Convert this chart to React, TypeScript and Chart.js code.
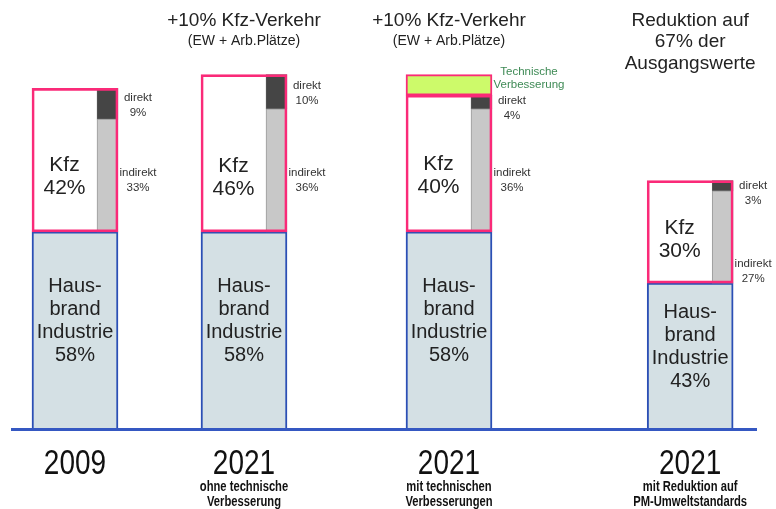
import { useEffect, useRef } from "react";
import { Chart, registerables } from "chart.js";

Chart.register(...registerables);

// ---- data ----
const years = ["2009", "2021", "2021", "2021"];
const subLabels = [
  [] as string[],
  ["ohne technische", "Verbesserung"],
  ["mit technischen", "Verbesserungen"],
  ["mit Reduktion auf", "PM-Umweltstandards"],
];
const headerMain = [
  [] as string[],
  ["+10% Kfz-Verkehr"],
  ["+10% Kfz-Verkehr"],
  ["Reduktion auf", "67% der", "Ausgangswerte"],
];
const headerSub = ["", "(EW + Arb.Plätze)", "(EW + Arb.Plätze)", ""];
const groupPositions = [0, 1, 2.213, 3.64];
const hausbrand = [58, 58, 58, 43];
const kfz = [42, 46, 40, 30];
const direkt = [9, 10, 4, 3];
const indirekt = [33, 36, 36, 27];
const technisch = [0, 0, 6, 0];

// label anchors (value units)
const kfzLabelAt = [74.1, 73.8, 74.3, 55.6];
const indirektLabelAt = [73.2, 73.1, 73.0, 46.3];

// ---- layout ----
const W = 776;
const H = 509;
const PAD = { left: 11, right: 19, top: 20, bottom: 79 };
const X_MIN = -0.3787;
const X_MAX = 4.0355;
const BAR_W = 86;
const INNER_W = 21;
const pxPerUnit = (W - PAD.left - PAD.right) / (X_MAX - X_MIN);
const innerOffset = (BAR_W - INNER_W) / 2 / pxPerUnit;

const SANS = '"Liberation Sans", Arial, Helvetica, sans-serif';
const NARROW_SCALE = 0.8;

const PINK = "#fa2a78";
const BLUE = "#2b4fb5";

function narrowText(ctx: CanvasRenderingContext2D, t: string, x: number, y: number) {
  ctx.save();
  ctx.translate(x, y);
  ctx.scale(NARROW_SCALE, 1);
  ctx.fillText(t, 0, 0);
  ctx.restore();
}

const textPlugin = {
  id: "texts",
  afterDatasetsDraw(chart: any) {
    const { ctx, chartArea } = chart;
    const x = chart.scales.x;
    const y = chart.scales.y;
    ctx.save();
    // baseline
    const y0 = y.getPixelForValue(0);
    ctx.strokeStyle = "#3558c2";
    ctx.lineWidth = 3;
    ctx.beginPath();
    ctx.moveTo(chartArea.left, y0 - 0.5);
    ctx.lineTo(chartArea.right, y0 - 0.5);
    ctx.stroke();

    ctx.textAlign = "center";
    ctx.textBaseline = "middle";
    groupPositions.forEach((gp, i) => {
      const cx = x.getPixelForValue(gp);
      const left = cx - BAR_W / 2;
      const right = cx + BAR_W / 2;
      const innerLeft = right - INNER_W;

      // Hausbrand label
      ctx.fillStyle = "#222";
      ctx.font = `20px ${SANS}`;
      const hLines = ["Haus-", "brand", "Industrie", `${hausbrand[i]}%`];
      const hc = y.getPixelForValue(hausbrand[i] / 2) - 10;
      hLines.forEach((t, k) => ctx.fillText(t, cx, hc + (k - 1.5) * 23));

      // Kfz label
      ctx.font = `21px ${SANS}`;
      const kc = y.getPixelForValue(kfzLabelAt[i]);
      const kx = (left + innerLeft) / 2;
      ctx.fillText("Kfz", kx, kc - 11.5);
      ctx.fillText(`${kfz[i]}%`, kx, kc + 11.5);

      // direkt / indirekt labels
      ctx.fillStyle = "#333";
      ctx.font = `11.5px ${SANS}`;
      const lx = right + 20;
      const dTop = y.getPixelForValue(hausbrand[i] + indirekt[i] + direkt[i]);
      const dBot = y.getPixelForValue(hausbrand[i] + indirekt[i]);
      const dc = Math.max((dTop + dBot) / 2 + 2, dTop + 13);
      ctx.fillText("direkt", lx, dc - 7.5);
      ctx.fillText(`${direkt[i]}%`, lx, dc + 7.5);
      const ic = y.getPixelForValue(indirektLabelAt[i]);
      ctx.fillText("indirekt", lx, ic - 7.5);
      ctx.fillText(`${indirekt[i]}%`, lx, ic + 7.5);

      // Technische Verbesserung
      if (technisch[i] > 0) {
        const tTop = y.getPixelForValue(hausbrand[i] + kfz[i] + technisch[i]);
        ctx.fillStyle = "#3e8a55";
        ctx.font = `11.5px ${SANS}`;
        ctx.fillText("Technische", right + 37, tTop - 3);
        ctx.fillText("Verbesserung", right + 37, tTop + 10);
      }

      // headers
      ctx.fillStyle = "#222";
      ctx.font = `19px ${SANS}`;
      headerMain[i].forEach((t, k) => ctx.fillText(t, cx, 20.5 + k * 21.5));
      if (headerSub[i]) {
        ctx.font = `14px ${SANS}`;
        ctx.fillText(headerSub[i], cx, 41);
      }

      // bottom labels
      ctx.fillStyle = "#111";
      ctx.font = `35px ${SANS}`;
      narrowText(ctx, years[i], cx, 464);
      ctx.font = `bold 14px ${SANS}`;
      subLabels[i].forEach((t, k) => narrowText(ctx, t, cx, 487 + k * 15));
    });
    ctx.restore();
  },
};

export default function App() {
  const ref = useRef<HTMLCanvasElement | null>(null);
  useEffect(() => {
    if (!ref.current) return;
    const hausData = groupPositions.map((gp, i) => ({ x: gp, y: [0, hausbrand[i]] }));
    const kfzData = groupPositions.map((gp, i) => ({ x: gp, y: [hausbrand[i], hausbrand[i] + kfz[i]] }));
    const indData = groupPositions.map((gp, i) => ({
      x: gp + innerOffset,
      y: [hausbrand[i], hausbrand[i] + indirekt[i]],
    }));
    const dirData = groupPositions.map((gp, i) => ({
      x: gp + innerOffset,
      y: [hausbrand[i] + indirekt[i], hausbrand[i] + indirekt[i] + direkt[i]],
    }));
    const techData = groupPositions
      .map((gp, i) => ({ x: gp, y: [hausbrand[i] + kfz[i], hausbrand[i] + kfz[i] + technisch[i]], t: technisch[i] }))
      .filter((d) => d.t > 0)
      .map(({ x, y }) => ({ x, y }));

    const chart = new Chart(ref.current, {
      type: "bar",
      data: {
        datasets: [
          {
            label: "Hausbrand Industrie",
            data: hausData as any,
            backgroundColor: "#d4e0e4",
            borderColor: BLUE,
            borderWidth: 2,
            borderSkipped: false,
            barThickness: BAR_W,
            grouped: false,
            order: 5,
          },
          {
            label: "indirekt",
            data: indData as any,
            backgroundColor: "#c8c8c8",
            borderColor: "#9a9a9a",
            borderWidth: 1,
            borderSkipped: false,
            barThickness: INNER_W,
            grouped: false,
            order: 3,
          },
          {
            label: "direkt",
            data: dirData as any,
            backgroundColor: "#454545",
            borderColor: "#555",
            borderWidth: 1,
            borderSkipped: false,
            barThickness: INNER_W,
            grouped: false,
            order: 3,
          },
          {
            label: "Technische Verbesserung",
            data: techData as any,
            backgroundColor: "#cdfa6a",
            borderColor: PINK,
            borderWidth: 2,
            borderSkipped: false,
            barThickness: BAR_W,
            grouped: false,
            order: 2,
          },
          {
            label: "Kfz",
            data: kfzData as any,
            backgroundColor: "rgba(255,255,255,0)",
            borderColor: PINK,
            borderWidth: 2,
            borderSkipped: false,
            barThickness: BAR_W,
            grouped: false,
            order: 1,
          },
        ],
      },
      options: {
        animation: false,
        responsive: false,
        devicePixelRatio: 1,
        layout: { padding: PAD },
        scales: {
          x: { type: "linear", min: X_MIN, max: X_MAX, offset: false, display: false },
          y: { min: 0, max: 120, display: false },
        },
        plugins: {
          legend: { display: false },
          tooltip: { enabled: false },
        },
      },
      plugins: [textPlugin],
    });
    return () => chart.destroy();
  }, []);

  return (
    <div style={{ position: "fixed", left: 0, top: 0, width: W, height: H, background: "#fff" }}>
      <canvas ref={ref} width={W} height={H} style={{ display: "block" }} />
    </div>
  );
}
